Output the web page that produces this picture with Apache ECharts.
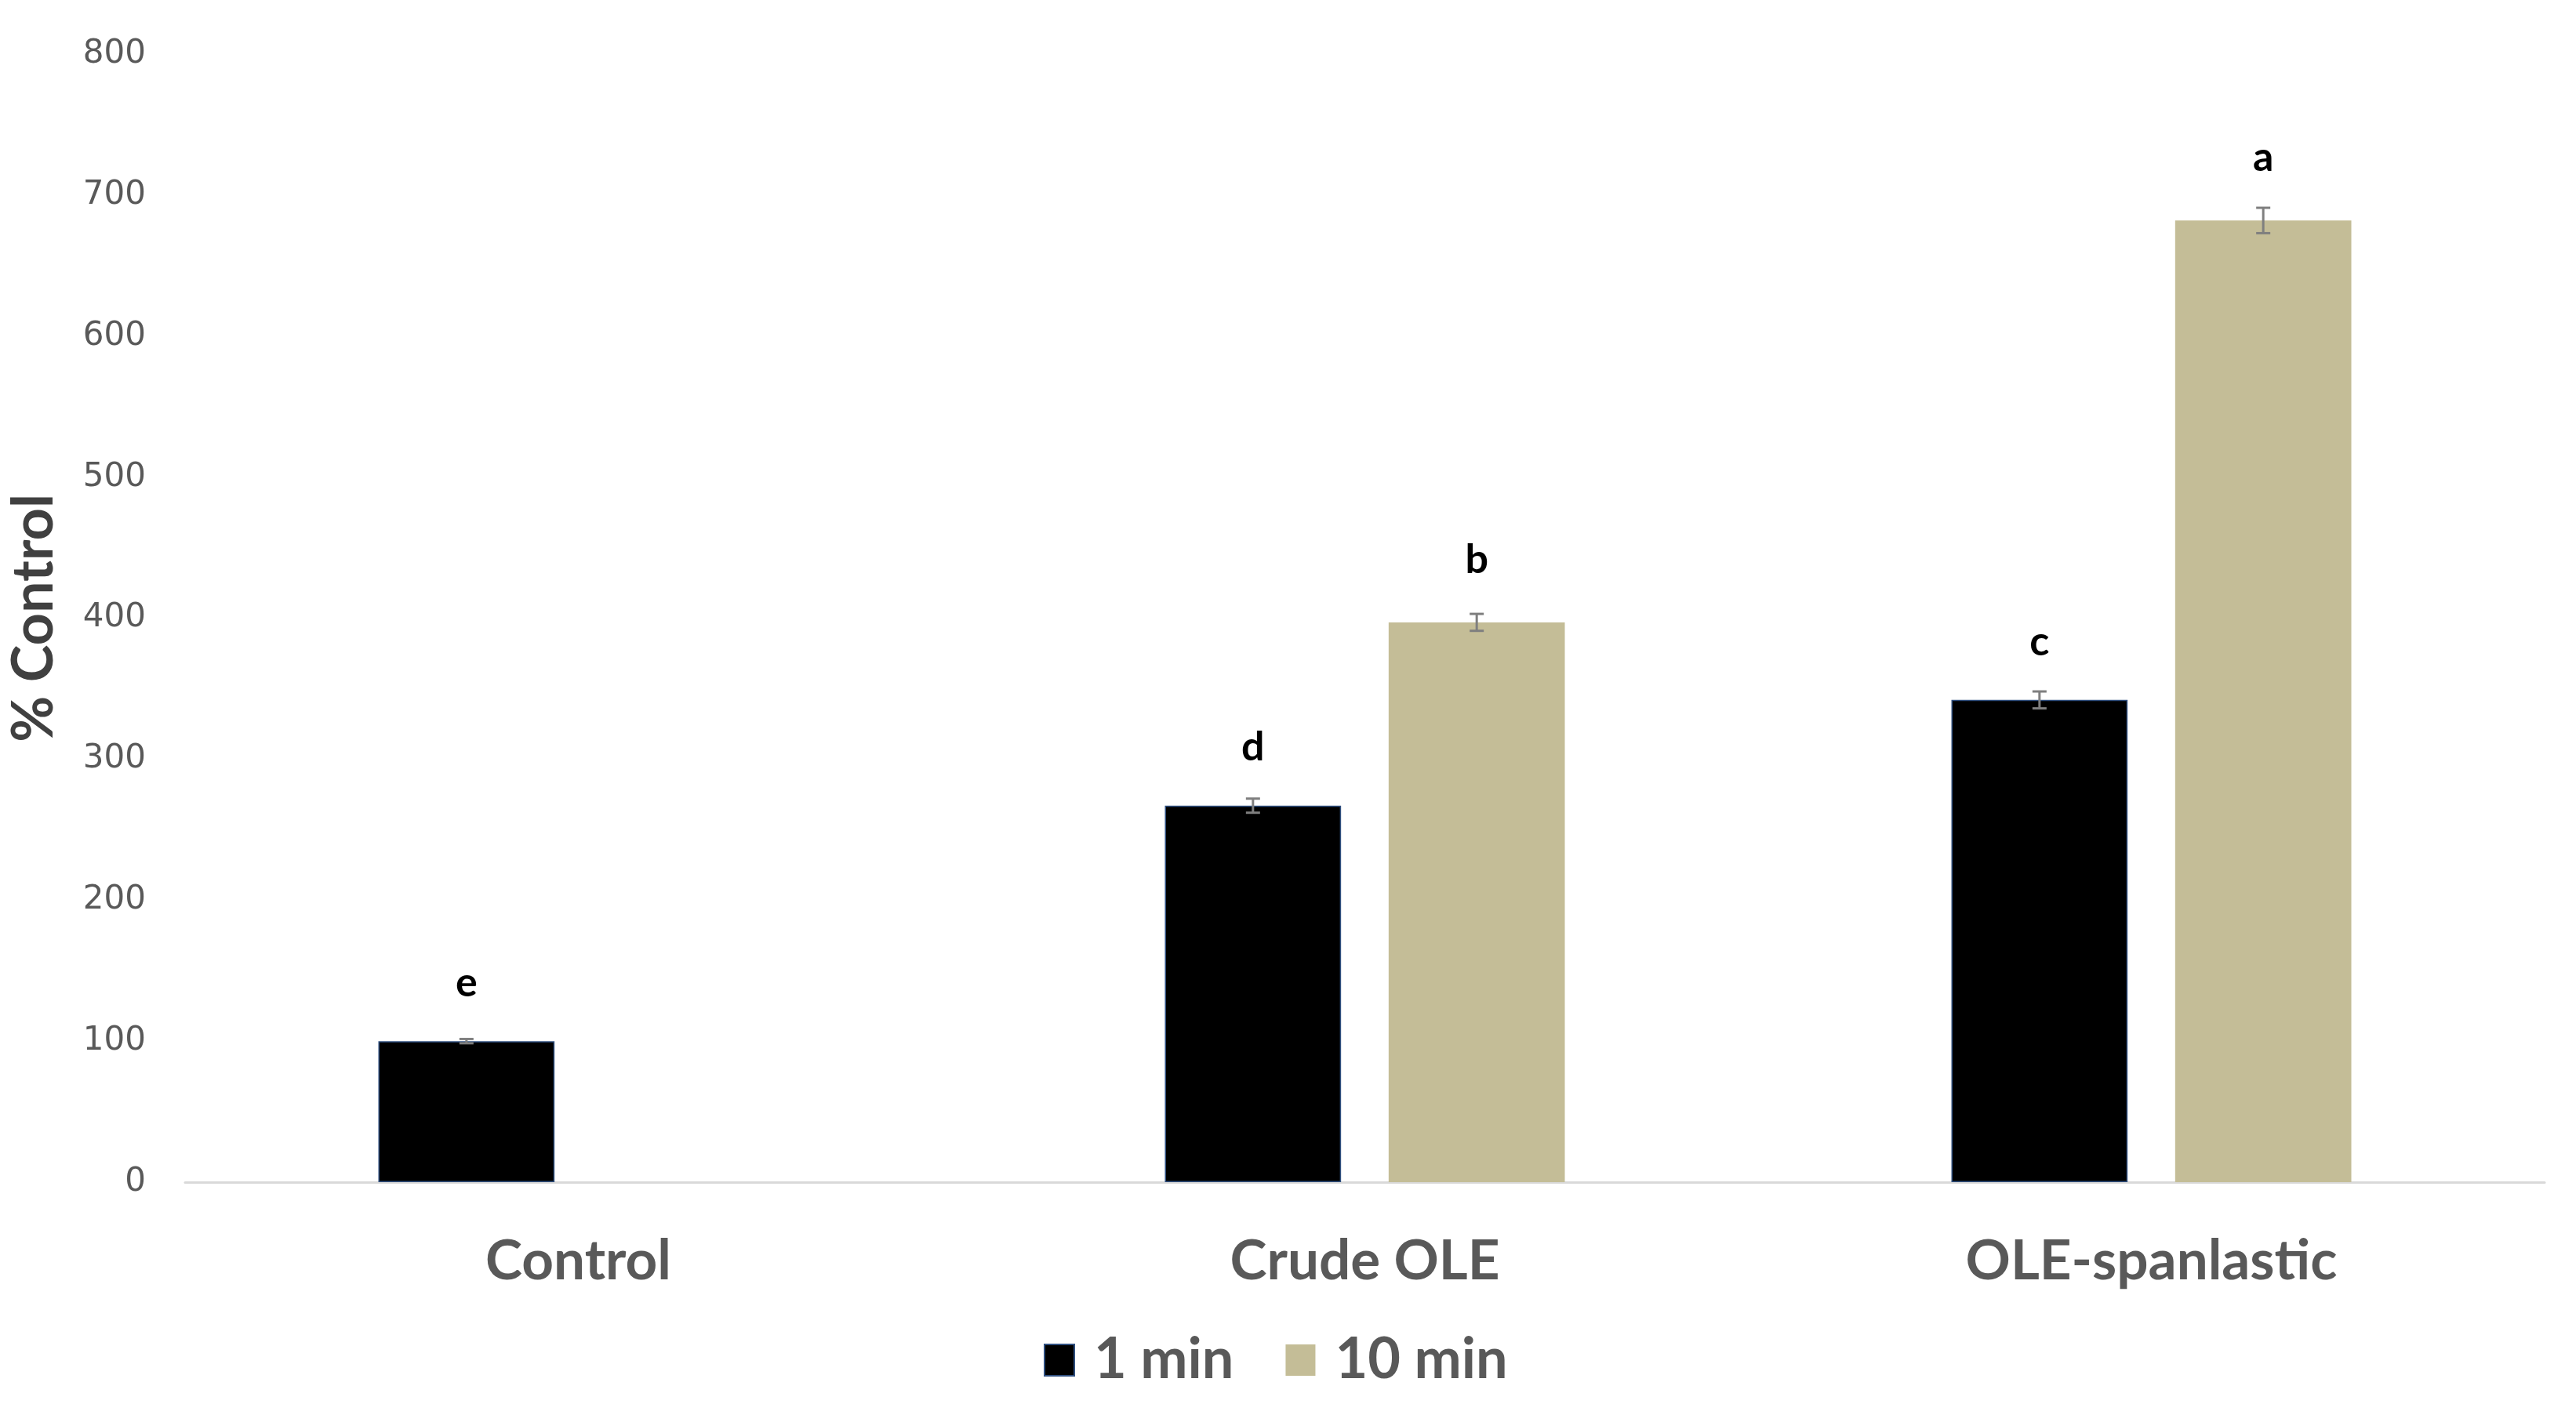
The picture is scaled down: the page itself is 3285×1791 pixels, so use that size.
<!DOCTYPE html>
<html>
<head>
<meta charset="utf-8">
<script src="https://cdn.jsdelivr.net/npm/echarts@6/dist/echarts.min.js"></script>
<style>html,body{margin:0;padding:0;background:#fff;}#c{width:3285px;height:1791px;}</style>
</head>
<body>
<div id="c"></div>
<script>
const categories = ['Control', 'Crude OLE', 'OLE-spanlastic'];
const seriesNames = ['1 min', '10 min'];
const oneMin = [100, 267, 342];
const tenMin = [null, 397, 682];
const oneMinErr = [1.5, 5, 6];
const tenMinErr = [null, 6, 9];
const oneMinLetters = ['e', 'd', 'c'];
const tenMinLetters = ['', 'b', 'a'];
const yTicks = [0, 100, 200, 300, 400, 500, 600, 700, 800];

const BAR_W = 0.224;   // fraction of band
const GAP = 0.27;      // fraction of bar width
const colors = ['#000000', '#C4BD97'];

function errSeries(vals, errs, side) {
  const data = vals.map((v, i) => (v == null ? null : [i, v, errs[i]])).filter(d => d);
  return {
    type: 'custom',
    silent: true,
    z: 10,
    data: data,
    renderItem: function (params, api) {
      const i = api.value(0), v = api.value(1), e = api.value(2);
      const band = api.size([1, 0])[0];
      const off = side * band * BAR_W * (1 + GAP) / 2;
      const p1 = api.coord([i, v + e]);
      const p2 = api.coord([i, v - e]);
      const x = p1[0] + off;
      const cap = 9;
      const st = { stroke: '#7f7f7f', lineWidth: 3 };
      return {
        type: 'group',
        children: [
          { type: 'line', shape: { x1: x, y1: p1[1], x2: x, y2: p2[1] }, style: st },
          { type: 'line', shape: { x1: x - cap, y1: p1[1], x2: x + cap, y2: p1[1] }, style: st },
          { type: 'line', shape: { x1: x - cap, y1: p2[1], x2: x + cap, y2: p2[1] }, style: st }
        ]
      };
    }
  };
}

const chart = echarts.init(document.getElementById('c'));
chart.setOption({
  backgroundColor: '#ffffff',
  animation: false,
  grid: { left: 214, right: 40, top: 69, bottom: 283 },
  legend: {
    data: seriesNames,
    left: 1326,
    top: 1694,
    icon: 'rect',
    itemWidth: 38,
    itemHeight: 40,
    itemGap: 66,
    textStyle: { fontFamily: 'Lato', fontWeight: 'bold', fontSize: 72, color: '#595959', padding: [0, 0, 0, 20] }
  },
  xAxis: {
    type: 'category',
    data: categories,
    axisLine: { lineStyle: { color: '#d9d9d9', width: 3 } },
    axisTick: { show: false },
    axisLabel: { margin: 66, fontFamily: 'Lato', fontWeight: 'bold', fontSize: 71, color: '#595959' }
  },
  yAxis: {
    type: 'value',
    min: 0, max: 800, interval: 100,
    name: '% Control',
    nameLocation: 'middle',
    nameGap: 156,
    nameRotate: 90,
    nameTextStyle: { fontFamily: 'Lato', fontWeight: 'bold', fontSize: 72, color: '#404040' },
    axisLine: { show: false },
    axisTick: { show: false },
    splitLine: { show: false },
    axisLabel: {
      margin: 50,
      fontFamily: 'DejaVu Sans', fontSize: 42, color: '#595959',
      formatter: v => (yTicks.indexOf(v) >= 0 ? String(v) : '')
    }
  },
  series: [
    {
      name: seriesNames[0], type: 'bar',
      data: oneMin,
      barWidth: (BAR_W * 100) + '%',
      barGap: (GAP * 100) + '%',
      itemStyle: { color: colors[0], borderColor: '#2f4f7f', borderWidth: 1.5 },
      label: {
        show: true, position: 'top', distance: 48,
        formatter: p => oneMinLetters[p.dataIndex],
        fontFamily: 'Lato', fontWeight: 'bold', fontSize: 52, color: '#000'
      }
    },
    {
      name: seriesNames[1], type: 'bar',
      data: tenMin,
      barWidth: (BAR_W * 100) + '%',
      itemStyle: { color: colors[1] },
      label: {
        show: true, position: 'top', distance: 54,
        formatter: p => tenMinLetters[p.dataIndex],
        fontFamily: 'Lato', fontWeight: 'bold', fontSize: 52, color: '#000'
      }
    },
    errSeries(oneMin, oneMinErr, -1),
    errSeries(tenMin, tenMinErr, 1)
  ]
});
</script>
</body>
</html>
